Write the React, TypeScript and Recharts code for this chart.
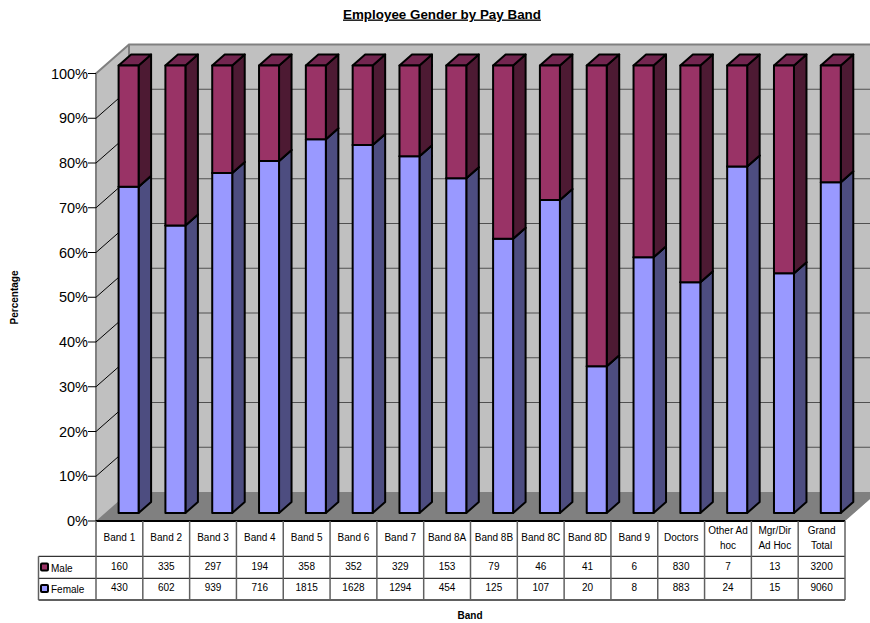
import React from "react";
import { BarChart, Bar, XAxis, YAxis, CartesianGrid } from "recharts";

const bands = ["Band 1", "Band 2", "Band 3", "Band 4", "Band 5", "Band 6", "Band 7", "Band 8A", "Band 8B", "Band 8C", "Band 8D", "Band 9", "Doctors", "Other Ad\nhoc", "Mgr/Dir\nAd Hoc", "Grand\nTotal"];
const male = [160, 335, 297, 194, 358, 352, 329, 153, 79, 46, 41, 6, 830, 7, 13, 3200];
const female = [430, 602, 939, 716, 1815, 1628, 1294, 454, 125, 107, 20, 8, 883, 24, 15, 9060];
const percentTicks = [0, 0.1, 0.2, 0.3, 0.4, 0.5, 0.6, 0.7, 0.8, 0.9, 1];

const rows = bands.map((band, i) => ({ band, male: male[i], female: female[i] }));

const FONT = '"Liberation Sans", Arial, sans-serif';
const WIDTH = 870;
const HEIGHT = 623;
const PLOT = { left: 96, right: 845, top: 73.5, bottom: 521 };
const WALL = { dx: 33, dy: -29 };
const BAR_OFFSET = { dx: 9.6, dy: -8 };
const BAR_DEPTH = { dx: 12.5, dy: -11 };
const TABLE = { left: 38.5, row1: 556.3, row2: 578.3, row3: 600 };

const pts = (list: number[][]) => list.map((p) => p.join(",")).join(" ");

// Side wall, back wall and floor are painted with the first grid line, so the rest sit on top.
function WallLine(props: any) {
  const { x1, x2, y1, index } = props;
  return (
    <g>
      {index === 0 && (
        <g>
          <polygon
            points={pts([
              [PLOT.left, PLOT.top],
              [PLOT.left + WALL.dx, PLOT.top + WALL.dy],
              [PLOT.right + WALL.dx, PLOT.top + WALL.dy],
              [PLOT.right + WALL.dx, PLOT.bottom + WALL.dy],
              [PLOT.right, PLOT.bottom],
              [PLOT.left, PLOT.bottom],
            ])}
            fill="#c0c0c0"
          />
          <polyline
            points={pts([
              [PLOT.left, PLOT.bottom],
              [PLOT.left, PLOT.top],
              [PLOT.left + WALL.dx, PLOT.top + WALL.dy],
              [PLOT.right + WALL.dx, PLOT.top + WALL.dy],
            ])}
            fill="none"
            stroke="#808080"
            strokeWidth={2}
          />
          <line
            x1={PLOT.left + WALL.dx}
            x2={PLOT.left + WALL.dx}
            y1={PLOT.top + WALL.dy}
            y2={PLOT.bottom + WALL.dy}
            stroke="#808080"
            strokeWidth={2}
          />
          <polygon
            points={pts([
              [PLOT.left, PLOT.bottom],
              [PLOT.left + WALL.dx, PLOT.bottom + WALL.dy],
              [PLOT.right + WALL.dx, PLOT.bottom + WALL.dy],
              [PLOT.right, PLOT.bottom],
            ])}
            fill="#808080"
          />
        </g>
      )}
      {y1 > PLOT.top + 1 && y1 < PLOT.bottom - 1 && (
        <g>
          <line x1={x1} y1={y1} x2={x1 + WALL.dx} y2={y1 + WALL.dy} stroke="#000" strokeWidth={1} />
          <line x1={x1 + WALL.dx} y1={y1 + WALL.dy} x2={x2 + WALL.dx} y2={y1 + WALL.dy} stroke="#505050" strokeWidth={1} />
        </g>
      )}
    </g>
  );
}

function Bar3D(props: any) {
  const { x, y, width, height, front, side, top } = props;
  const l = x + BAR_OFFSET.dx;
  const r = l + width;
  const t = y + BAR_OFFSET.dy;
  const b = t + height;
  const { dx, dy } = BAR_DEPTH;
  const edge = { stroke: "#000", strokeWidth: 2, strokeLinejoin: "round" as const };
  return (
    <g>
      <polygon points={pts([[r, t], [r + dx, t + dy], [r + dx, b + dy], [r, b]])} fill={side} {...edge} />
      <polygon points={pts([[l, t], [l + dx, t + dy], [r + dx, t + dy], [r, t]])} fill={top} {...edge} />
      <rect x={l} y={t} width={width} height={height} fill={front} {...edge} />
    </g>
  );
}

// Each x-axis tick draws one column of the data table below the plot.
function TableColumn(props: any) {
  const { x, index, payload } = props;
  const colWidth = (PLOT.right - PLOT.left) / bands.length;
  const lines = String(payload.value).split("\n");
  const cell = { fontFamily: FONT, fontSize: 10, fill: "#000", textAnchor: "middle" as const };
  const rowLine = { stroke: "#000", strokeWidth: 1 };
  const columnLine = { stroke: "#606060", strokeWidth: 1.5 };
  return (
    <g>
      {index === 0 && (
        <g>
          <line x1={TABLE.left} x2={PLOT.right} y1={TABLE.row1} y2={TABLE.row1} {...rowLine} />
          <line x1={TABLE.left} x2={PLOT.right} y1={TABLE.row2} y2={TABLE.row2} {...rowLine} />
          <line x1={TABLE.left} x2={PLOT.right} y1={TABLE.row3} y2={TABLE.row3} stroke="#606060" strokeWidth={2} />
          <line x1={TABLE.left} x2={TABLE.left} y1={TABLE.row1} y2={TABLE.row3} {...columnLine} />
          <line x1={PLOT.left} x2={PLOT.right} y1={PLOT.bottom} y2={PLOT.bottom} stroke="#000" strokeWidth={2} />
          <line x1={PLOT.left} x2={PLOT.left} y1={PLOT.bottom} y2={TABLE.row3} {...columnLine} />
          <rect x={41} y={563.5} width={7} height={7} fill="#993366" stroke="#000" strokeWidth={2} rx={1} />
          <rect x={41} y={585} width={7} height={7} fill="#9999ff" stroke="#000" strokeWidth={2} rx={1} />
          <text x={51} y={571.5} fontFamily={FONT} fontSize={10} fill="#000">Male</text>
          <text x={51} y={592.5} fontFamily={FONT} fontSize={10} fill="#000">Female</text>
        </g>
      )}
      <line x1={x + colWidth / 2} x2={x + colWidth / 2} y1={PLOT.bottom} y2={TABLE.row3} {...columnLine} />
      {lines.length === 1 ? (
        <text x={x} y={541} {...cell}>{lines[0]}</text>
      ) : (
        <g>
          <text x={x} y={534} {...cell}>{lines[0]}</text>
          <text x={x} y={549} {...cell}>{lines[1]}</text>
        </g>
      )}
      <text x={x} y={569.5} {...cell}>{male[index]}</text>
      <text x={x} y={591} {...cell}>{female[index]}</text>
    </g>
  );
}

export default function App() {
  return (
    <div style={{ position: "absolute", left: 0, top: 0, width: WIDTH, height: HEIGHT, background: "#fff" }}>
      <BarChart
        width={WIDTH}
        height={HEIGHT}
        data={rows}
        stackOffset="expand"
        barCategoryGap={0}
        margin={{ top: PLOT.top, right: WIDTH - PLOT.right, bottom: 0, left: 0 }}
      >
        <CartesianGrid vertical={false} horizontal={WallLine as any} />
        <XAxis dataKey="band" interval={0} height={HEIGHT - PLOT.bottom} axisLine={false} tickLine={false} tick={TableColumn as any} />
        <YAxis
          width={PLOT.left}
          domain={[0, 1]}
          ticks={percentTicks}
          interval={0}
          tickFormatter={(v: number) => `${Math.round(v * 100)}%`}
          tick={{ fontFamily: FONT, fontSize: 14.5, fill: "#000" }}
          tickLine={{ stroke: "#000", strokeWidth: 1 }}
          tickSize={8}
          tickMargin={0}
          axisLine={false}
        />
        <Bar dataKey="female" stackId="gender" barSize={20} isAnimationActive={false} shape={(p: any) => <Bar3D {...p} front="#9999ff" side="#4d4d80" top="#7373bf" />} />
        <Bar dataKey="male" stackId="gender" barSize={20} isAnimationActive={false} shape={(p: any) => <Bar3D {...p} front="#993366" side="#4d1a33" top="#732650" />} />
        <text x={442} y={18.5} textAnchor="middle" fontFamily={FONT} fontSize={13.4} fontWeight="bold" textDecoration="underline" fill="#000">
          Employee Gender by Pay Band
        </text>
        <text x={18} y={297.5} transform="rotate(-90 18 297.5)" textAnchor="middle" fontFamily={FONT} fontSize={10} fontWeight="bold" fill="#000">
          Percentage
        </text>
        <text x={470} y={619} textAnchor="middle" fontFamily={FONT} fontSize={10} fontWeight="bold" fill="#000">
          Band
        </text>
      </BarChart>
    </div>
  );
}
